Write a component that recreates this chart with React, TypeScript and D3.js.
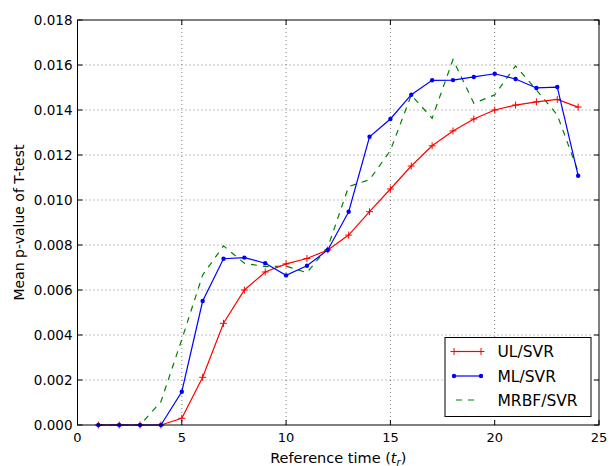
import React, { useEffect, useRef } from 'react'
import * as d3 from 'd3'

const times = d3.range(1, 25)
const ulSvr = [0, 0, 0, 0, 0.0003, 0.00212, 0.00452, 0.006, 0.0068, 0.00716, 0.0074, 0.00778, 0.00844, 0.00948, 0.01049, 0.01151, 0.01241, 0.01307, 0.0136, 0.014, 0.01422, 0.01436, 0.01447, 0.01413]
const mlSvr = [0, 0, 0, 0, 0.00148, 0.00551, 0.00739, 0.00744, 0.00719, 0.00665, 0.00708, 0.00778, 0.00948, 0.01281, 0.0136, 0.01468, 0.01532, 0.01533, 0.01547, 0.01561, 0.01538, 0.01498, 0.01502, 0.01108]
const mrbfSvr = [0, 0, 0, 0.00104, 0.0038, 0.00667, 0.00796, 0.00719, 0.00704, 0.00706, 0.00677, 0.0079, 0.0106, 0.0109, 0.0122, 0.01467, 0.01363, 0.01624, 0.0143, 0.01467, 0.01596, 0.01489, 0.01378, 0.01126]
const xTicks = [0, 5, 10, 15, 20, 25]
const yTicks = d3.range(0, 0.0181, 0.002)
const seriesNames = ['UL/SVR', 'ML/SVR', 'MRBF/SVR']

export default function App() {
  const svgRef = useRef<SVGSVGElement>(null)

  useEffect(() => {
    const svg = d3.select(svgRef.current)
    svg.selectAll('*').remove()
    const left = 77.5, right = 599, top = 20, bottom = 425
    const x = d3.scaleLinear().domain([0, 25]).range([left, right])
    const y = d3.scaleLinear().domain([0, 0.018]).range([bottom, top])
    const font = 'DejaVu Sans, sans-serif'

    svg.append('rect').attr('width', 613).attr('height', 466).attr('fill', 'white')

    // grid
    const g = svg.append('g')
    g.selectAll('.gx').data(xTicks.slice(1, -1)).join('line')
      .attr('x1', d => x(d)).attr('x2', d => x(d)).attr('y1', top).attr('y2', bottom)
      .attr('stroke', '#000').attr('stroke-width', 0.5).attr('stroke-dasharray', '1,3')
    g.selectAll('.gy').data(yTicks.slice(1, -1)).join('line')
      .attr('class', 'gy')
      .attr('y1', d => y(d)).attr('y2', d => y(d)).attr('x1', left).attr('x2', right)
      .attr('stroke', '#000').attr('stroke-width', 0.5).attr('stroke-dasharray', '1,3')

    const mk = (vals: number[]) => d3.line<number>().x((_, i) => x(times[i])).y(v => y(v))(vals)

    svg.append('path').attr('d', mk(mrbfSvr)).attr('fill', 'none')
      .attr('stroke', '#008000').attr('stroke-width', 1.2).attr('stroke-dasharray', '6,6')
    svg.append('path').attr('d', mk(ulSvr)).attr('fill', 'none')
      .attr('stroke', '#ff0000').attr('stroke-width', 1.2)
    svg.selectAll('.plus').data(ulSvr).join('path')
      .attr('class', 'plus')
      .attr('d', (v, i) => { const cx = x(times[i]), cy = y(v); return `M${cx - 3.5},${cy}H${cx + 3.5}M${cx},${cy - 3.5}V${cy + 3.5}` })
      .attr('stroke', '#ff0000').attr('stroke-width', 1)
    svg.append('path').attr('d', mk(mlSvr)).attr('fill', 'none')
      .attr('stroke', '#0000ff').attr('stroke-width', 1.2)
    svg.selectAll('.dot').data(mlSvr).join('circle')
      .attr('class', 'dot')
      .attr('cx', (_, i) => x(times[i])).attr('cy', v => y(v)).attr('r', 2.2).attr('fill', '#0000ff')

    // frame
    svg.append('rect').attr('x', left).attr('y', top).attr('width', right - left).attr('height', bottom - top)
      .attr('fill', 'none').attr('stroke', '#000').attr('stroke-width', 1)

    // ticks inward
    xTicks.forEach(t => {
      svg.append('line').attr('x1', x(t)).attr('x2', x(t)).attr('y1', bottom).attr('y2', bottom - 5).attr('stroke', '#000')
      svg.append('line').attr('x1', x(t)).attr('x2', x(t)).attr('y1', top).attr('y2', top + 5).attr('stroke', '#000')
      svg.append('text').attr('x', x(t)).attr('y', bottom + 16.5).attr('text-anchor', 'middle')
        .attr('font-family', font).attr('font-size', 13).text(t)
    })
    yTicks.forEach(t => {
      svg.append('line').attr('x1', left).attr('x2', left + 5).attr('y1', y(t)).attr('y2', y(t)).attr('stroke', '#000')
      svg.append('line').attr('x1', right).attr('x2', right - 5).attr('y1', y(t)).attr('y2', y(t)).attr('stroke', '#000')
      svg.append('text').attr('x', left - 5).attr('y', y(t) + 4.7).attr('text-anchor', 'end')
        .attr('font-family', font).attr('font-size', 13.5).text(t.toFixed(3))
    })

    const xl = svg.append('text').attr('x', x(12.5)).attr('y', 462.5).attr('text-anchor', 'middle')
      .attr('font-family', font).attr('font-size', 14.5)
    xl.append('tspan').text('Reference time (')
    xl.append('tspan').attr('font-style', 'italic').text('t')
    xl.append('tspan').attr('font-style', 'italic').attr('font-size', 10).attr('dy', 3).text('r')
    xl.append('tspan').attr('dy', -3).text(')')

    svg.append('text').attr('transform', `translate(24,${(top + bottom) / 2}) rotate(-90)`)
      .attr('text-anchor', 'middle').attr('font-family', font).attr('font-size', 14).text('Mean p-value of T-test')

    // legend
    const lg = svg.append('g')
    lg.append('rect').attr('x', 445).attr('y', 337.5).attr('width', 146).attr('height', 79)
      .attr('fill', 'white').attr('stroke', '#000').attr('stroke-width', 1)
    const rows = [351.5, 376, 400]
    const colors = ['#ff0000', '#0000ff', '#008000']
    seriesNames.forEach((name, i) => {
      const ry = rows[i]
      const ln = lg.append('line').attr('x1', 454).attr('x2', 481).attr('y1', ry).attr('y2', ry)
        .attr('stroke', colors[i]).attr('stroke-width', 1.2)
      if (i === 2) ln.attr('stroke-dasharray', '6,6').attr('x1', 456).attr('x2', 480)
      if (i === 0) {
        [454, 481].forEach(px => lg.append('path').attr('d', `M${px - 3.5},${ry}H${px + 3.5}M${px},${ry - 3.5}V${ry + 3.5}`).attr('stroke', colors[0]))
      }
      if (i === 1) {
        [454, 481].forEach(px => lg.append('circle').attr('cx', px).attr('cy', ry).attr('r', 2.2).attr('fill', colors[1]))
      }
      lg.append('text').attr('x', 497.5).attr('y', ry + 5.5).attr('font-family', font).attr('font-size', 15.5).text(name)
    })
  }, [])

  return <svg ref={svgRef} width={613} height={466} style={{ position: 'absolute', left: 0, top: 0 }} />
}
